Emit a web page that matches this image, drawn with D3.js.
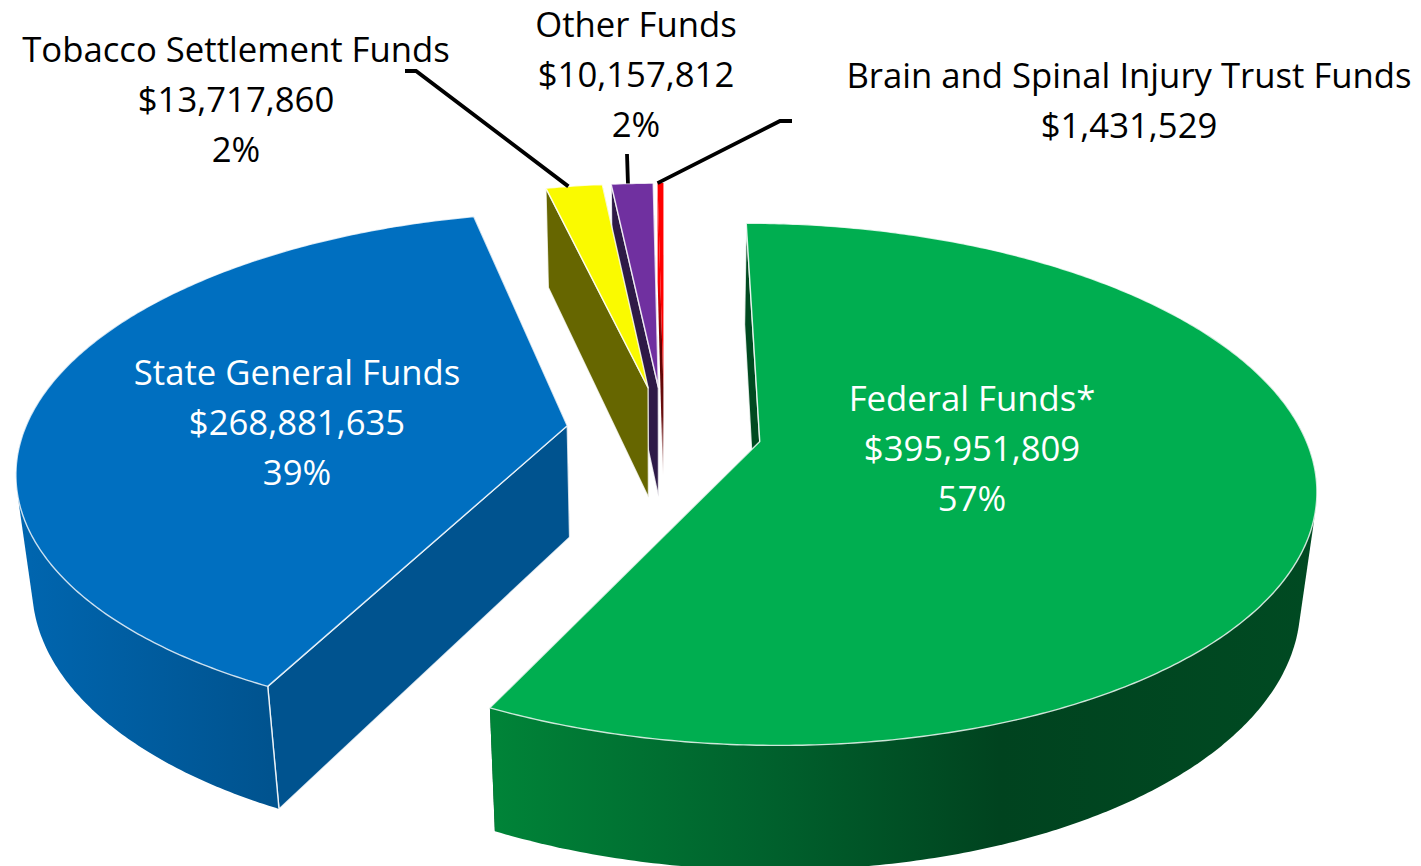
<!DOCTYPE html>
<html>
<head>
<meta charset="utf-8">
<script src="https://cdn.jsdelivr.net/npm/d3@7/dist/d3.min.js"></script>
<style>
html,body{margin:0;padding:0;background:#fff;overflow:hidden}
svg{display:block}
text{font-family:"Open Sans","Noto Sans",sans-serif;text-anchor:middle}
</style>
</head>
<body>
<svg id="chart" width="1421" height="866"></svg>
<script>
// ---- data ----
const categories = ["Federal Funds*","State General Funds","Tobacco Settlement Funds","Other Funds","Brain and Spinal Injury Trust Funds"];
const amounts = [395951809,268881635,13717860,10157812,1431529];
const percentLabels = ["57%","39%","2%","2%",""];
// ---- styles ----
const topColors = ["#00ae50","#006fc0","#fafa00","#7030a0","#ff0000"];
const sideColors = ["#004a20","#00538f","#666600","#2e1a47","#700000"];
const textColors = ["#fff","#fff","#000","#000","#000"];
const labelX = [972,297,236,636,1129];
const labelY = [411,385,62,37,88];
const wallStops = [
  [[491,"#008438"],[760,"#00622d"],[1000,"#00431f"],[1316,"#004a22"]],
  [[16,"#0066b0"],[270,"#00538f"]]
];
const wallVisibleDeg = [[60,null],[null,300]]; // part of the outer wall that faces the viewer
const leaderElbows = [null,null,[[405,71],[416,71]],[[627,154]],[[792,121],[780,121]]];
const leaderFrac = [0,0,0.4,0.4,0];
const drawOrder = [1,4,3,2,0];
// ---- projection parameters ----
const X0=664, Y0=431, AX=543, BY=250.6, PERSP=0.1633, CZ=114.5, MZ=0.025, EXPLODE=0.18;
const svg=d3.select("#chart"), defs=svg.append("defs");
const pie=d3.pie().sort(null).startAngle(0).endAngle(2*Math.PI);
const arcs=pie(amounts);
const lineGen=d3.line();
const rad=d=>d*Math.PI/180;
function project(px,py,z){
  const w=1-PERSP*py+MZ*z;
  return [X0+AX*px/w, Y0+(BY*py+CZ*z)/w];
}
function rim(a,off,z){return project(off[0]+Math.sin(a),off[1]-Math.cos(a),z);}
function rimRange(a0,a1,off,z){
  const n=Math.max(2,Math.ceil((a1-a0)/0.01));
  return d3.range(n+1).map(i=>rim(a0+(a1-a0)*i/n,off,z));
}
function styled(sel,fill){
  return sel.attr("fill",fill).attr("stroke","#fff").attr("stroke-opacity",0.8)
    .attr("stroke-width",1.4).attr("stroke-linejoin","round");
}
// gradients
const gid=i=>"wall"+i;
wallStops.forEach((st,i)=>{
  const x0=st[0][0], x1=st[st.length-1][0];
  const g=defs.append("linearGradient").attr("id",gid(i)).attr("gradientUnits","userSpaceOnUse")
    .attr("x1",x0).attr("x2",x1).attr("y1",0).attr("y2",0);
  const sc=d3.scaleLinear().domain([x0,x1]).range([0,1]);
  st.forEach(s=>g.append("stop").attr("offset",sc(s[0])).attr("stop-color",s[1]));
});
const brainGrad=defs.append("linearGradient").attr("id","brainWall").attr("gradientUnits","userSpaceOnUse")
  .attr("x1",0).attr("x2",0).attr("y1",280).attr("y2",475);
[[0,"#ff0000"],[0.35,"#600000"],[0.7,"#6a1010"],[1,"#ffffff"]].forEach(s=>brainGrad.append("stop").attr("offset",s[0]).attr("stop-color",s[1]));

const gSlices=svg.append("g");
drawOrder.forEach(i=>{
  const d=arcs[i], mid=(d.startAngle+d.endAngle)/2;
  const off=[EXPLODE*Math.sin(mid),-EXPLODE*Math.cos(mid)];
  const apexT=project(off[0],off[1],0), apexB=project(off[0],off[1],1);
  const g=gSlices.append("g").attr("class","slice");
  const endWall=[apexT,rim(d.endAngle,off,0),rim(d.endAngle,off,1),apexB];
  const startWall=[apexT,rim(d.startAngle,off,0),rim(d.startAngle,off,1),apexB];
  const sideFill=i===4?"url(#brainWall)":sideColors[i];
  g.append("path").attr("d",lineGen(endWall)+"Z").attr("fill",sideFill);
  const sw=g.append("path").attr("d",lineGen(startWall)+"Z");
  if(i===4) sw.attr("fill",sideFill); else styled(sw,sideFill);
  if(i<2){
    const a0=wallVisibleDeg[i][0]===null?d.startAngle:rad(wallVisibleDeg[i][0]);
    const a1=wallVisibleDeg[i][1]===null?d.endAngle:rad(wallVisibleDeg[i][1]);
    const hull=d3.polygonHull(rimRange(a0,a1,off,0).concat(rimRange(a0,a1,off,1)));
    g.append("path").attr("d",lineGen(hull)+"Z").attr("fill","url(#"+gid(i)+")");
    if(i===1){
      g.append("path").attr("d",lineGen([rim(d.startAngle,off,0),rim(d.startAngle,off,1)])).attr("fill","none")
        .attr("stroke","#fff").attr("stroke-opacity",0.85).attr("stroke-width",1.4);
    }
  }
  const top=[apexT].concat(rimRange(d.startAngle,d.endAngle,off,0));
  const tp=g.append("path").attr("d",lineGen(top)+"Z");
  if(i===4) tp.attr("fill",topColors[i]); else styled(tp,topColors[i]);
  if(leaderElbows[i]){
    const a=d.startAngle+(d.endAngle-d.startAngle)*leaderFrac[i];
    svg.append("path").attr("class","leader").attr("d",lineGen(leaderElbows[i].concat([rim(a,off,0)])))
      .attr("fill","none").attr("stroke","#000").attr("stroke-width",3.8);
  }
});
// labels
const fmt=d3.format("$,");
categories.forEach((c,i)=>{
  const t=svg.append("text").attr("font-size",34.7).attr("fill",textColors[i]);
  const lines=[c,fmt(amounts[i])];
  if(percentLabels[i]) lines.push(percentLabels[i]);
  lines.forEach((l,j)=>t.append("tspan").attr("x",labelX[i]).attr("y",labelY[i]+j*50).text(l));
});
</script>
</body>
</html>
